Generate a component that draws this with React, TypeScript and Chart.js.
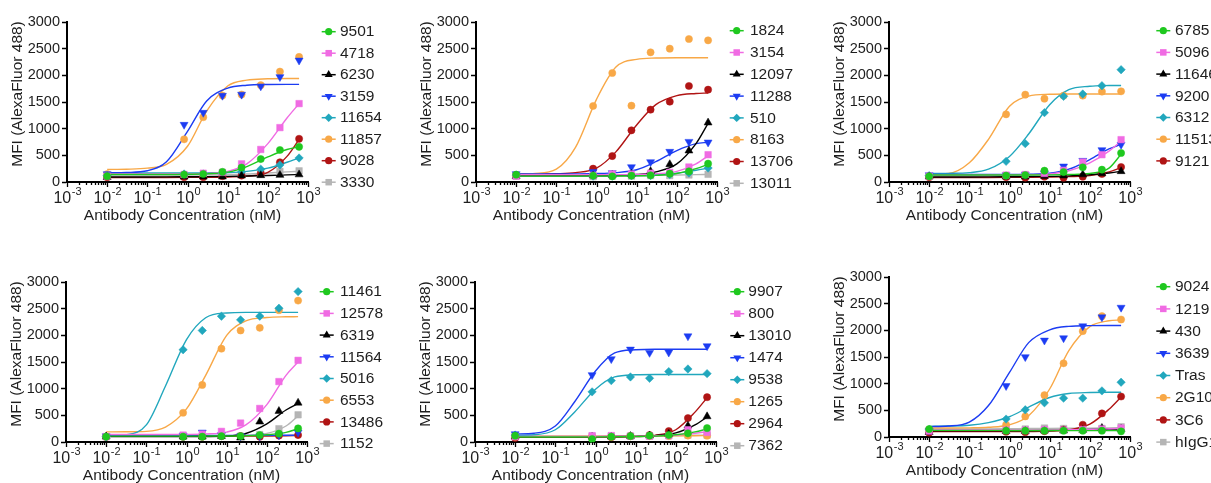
import React, { useEffect, useRef } from 'react';
import { Chart, registerables } from 'chart.js';

Chart.register(...registerables);

const FONT = "'Liberation Sans', Arial, Helvetica, sans-serif";
const NARROW = "'Liberation Sans Narrow', 'Arial Narrow', 'Liberation Sans', sans-serif";
Chart.defaults.font.family = FONT;
Chart.defaults.color = '#1e1e1e';
const TEXT_COLOR = '#1e1e1e';

// ---------- shared data ----------
const CONC = [0.01, 0.823, 2.47, 7.41, 22.2, 66.7, 200, 600];
const CURVE_X = [0.01, 0.03, 0.1, 0.3, 1, 3, 10, 30, 100, 300, 600];
const X_MAJOR = [0.001, 0.01, 0.1, 1, 10, 100, 1000];
const X_TICK_BASE = '10';
const X_TICK_EXPONENTS = ['-3', '-2', '-1', '0', '1', '2', '3'];
const Y_TITLE = 'MFI (AlexaFluor 488)';
const X_TITLE = 'Antibody Concentration (nM)';

const SERIES_COLORS = ['#1fc81f', '#f06be3', '#000000', '#1c3cf2', '#21a7bd', '#f8a847', '#b01414', '#b5b5b5'];
const SERIES_SHAPES = ['circle', 'rect', 'triangle', 'triangleDown', 'rectRot', 'circle', 'circle', 'rect'];
const SHAPE_RADIUS: Record<string, number> = { circle: 3.6, rect: 4.6, triangle: 4.6, triangleDown: 4.6, rectRot: 4.2 };

// ---------- panel 1 ----------
const P1_NAMES = ['9501', '4718', '6230', '3159', '11654', '11857', '9028', '3330'];
const P1_POINTS = [
  [110, 140, 150, 190, 270, 430, 600, 660],
  [110, 140, 165, 180, 340, 610, 1020, 1470],
  [90, 100, 100, 100, 120, 125, 130, 140],
  [150, 1075, 1300, 1620, 1640, 1795, 1970, 2280],
  [120, 150, 150, 160, 190, 240, 320, 450],
  [150, 800, 1215, 1620, 1640, 1815, 2070, 2345],
  [90, 90, 90, 110, 120, 160, 370, 810],
  [100, 110, 120, 130, 150, 170, 200, 210],
];
const P1_CURVES = [
  [140, 140, 140, 140, 145, 155, 185, 290, 470, 610, 660],
  [150, 150, 150, 150, 152, 160, 200, 340, 720, 1200, 1470],
  [95, 95, 95, 96, 98, 100, 105, 112, 122, 133, 140],
  [172, 178, 210, 380, 950, 1520, 1760, 1815, 1828, 1830, 1830],
  [170, 170, 170, 170, 170, 172, 178, 200, 260, 370, 450],
  [235, 240, 260, 330, 670, 1330, 1800, 1910, 1935, 1940, 1940],
  [85, 85, 85, 85, 86, 88, 95, 110, 180, 480, 800],
  [130, 130, 130, 130, 132, 135, 140, 150, 170, 190, 200],
];

// ---------- panel 2 ----------
const P2_NAMES = ['1824', '3154', '12097', '11288', '510', '8163', '13706', '13011'];
const P2_POINTS = [
  [137, 119, 106, 119, 125, 156, 200, 344],
  [110, 125, 150, 150, 165, 181, 281, 512],
  [110, 120, 130, 150, 200, 331, 587, 1112],
  [150, 190, 170, 281, 375, 569, 756, 744],
  [130, 110, 110, 120, 120, 140, 170, 262],
  [120, 1425, 2044, 1431, 2431, 2500, 2681, 2656],
  [130, 250, 487, 969, 1356, 1506, 1800, 1731],
  [110, 100, 110, 110, 120, 120, 131, 144],
];
const P2_CURVES = [
  [110, 110, 110, 110, 110, 112, 115, 125, 160, 250, 330],
  [135, 135, 135, 135, 136, 138, 142, 155, 200, 340, 490],
  [120, 120, 120, 120, 122, 126, 140, 190, 340, 720, 1100],
  [150, 150, 150, 152, 158, 175, 230, 380, 590, 720, 745],
  [115, 115, 115, 115, 116, 118, 122, 135, 165, 220, 260],
  [150, 160, 240, 650, 1550, 2150, 2300, 2325, 2330, 2330, 2330],
  [150, 150, 155, 175, 260, 560, 1070, 1450, 1620, 1660, 1670],
  [105, 105, 106, 108, 110, 114, 118, 124, 130, 138, 142],
];

// ---------- panel 3 ----------
const P3_NAMES = ['6785', '5096', '11646', '9200', '6312', '11513', '9121'];
const P3_POINTS = [
  [106, 120, 130, 212, 187, 275, 231, 544],
  [110, 130, 140, 160, 219, 375, 512, 794],
  [100, 100, 100, 110, 120, 140, 160, 200],
  [130, 130, 140, 160, 294, 400, 600, 700],
  [120, 387, 719, 1300, 1606, 1650, 1806, 2106],
  [110, 1269, 1638, 1563, 1619, 1619, 1694, 1700],
  [90, 90, 81, 100, 80, 100, 150, 281],
];
const P3_CURVES = [
  [130, 130, 130, 130, 130, 131, 133, 140, 160, 260, 520],
  [130, 130, 130, 130, 131, 135, 150, 210, 360, 580, 770],
  [95, 95, 95, 96, 98, 100, 105, 115, 135, 170, 200],
  [140, 140, 140, 140, 141, 145, 165, 240, 420, 620, 705],
  [160, 162, 175, 240, 480, 900, 1450, 1730, 1795, 1808, 1810],
  [150, 160, 360, 800, 1420, 1610, 1645, 1650, 1650, 1650, 1650],
  [85, 85, 85, 85, 86, 88, 92, 100, 120, 190, 270],
];

// ---------- panel 4 ----------
const P4_NAMES = ['11461', '12578', '6319', '11564', '5016', '6553', '13486', '1152'];
const P4_POINTS = [
  [100, 100, 100, 110, 110, 131, 156, 255],
  [100, 130, 150, 199, 355, 629, 1133, 1531],
  [100, 100, 100, 110, 80, 380, 579, 734],
  [110, 120, 180, 130, 110, 110, 130, 180],
  [100, 1730, 2091, 2359, 2290, 2359, 2508, 2820],
  [100, 548, 1070, 1749, 2091, 2141, 2471, 2651],
  [100, 100, 100, 110, 110, 100, 120, 130],
  [100, 110, 110, 120, 110, 140, 249, 510],
];
const P4_CURVES = [
  [110, 110, 110, 110, 110, 111, 113, 118, 135, 180, 250],
  [140, 140, 140, 140, 142, 150, 185, 320, 700, 1250, 1500],
  [100, 100, 100, 100, 100, 102, 110, 160, 340, 600, 720],
  [125, 125, 125, 125, 125, 125, 125, 125, 125, 126, 127],
  [105, 130, 320, 1050, 1920, 2330, 2420, 2430, 2430, 2430, 2430],
  [190, 192, 200, 280, 620, 1250, 2000, 2270, 2335, 2348, 2350],
  [105, 105, 105, 105, 106, 107, 108, 110, 113, 118, 122],
  [115, 115, 115, 115, 115, 116, 118, 125, 160, 300, 490],
];

// ---------- panel 5 ----------
const P5_NAMES = ['9907', '800', '13010', '1474', '9538', '1265', '2964', '7362'];
const P5_POINTS = [
  [118, 56, 100, 110, 120, 130, 162, 261],
  [100, 118, 120, 110, 110, 120, 230, 180],
  [100, 100, 100, 110, 120, 150, 305, 479],
  [149, 1257, 1556, 1736, 1674, 1680, 1985, 1799],
  [130, 940, 1151, 1220, 1195, 1320, 1369, 1282],
  [100, 100, 100, 110, 110, 110, 120, 118],
  [75, 90, 90, 110, 130, 205, 448, 840],
  [100, 110, 110, 110, 110, 120, 130, 130],
];
const P5_CURVES = [
  [95, 95, 95, 95, 96, 98, 102, 110, 135, 190, 245],
  [105, 105, 105, 105, 106, 108, 110, 115, 130, 165, 190],
  [100, 100, 100, 100, 100, 102, 106, 120, 170, 320, 470],
  [150, 165, 300, 750, 1330, 1670, 1730, 1740, 1740, 1740, 1740],
  [125, 135, 230, 560, 990, 1220, 1260, 1265, 1265, 1265, 1265],
  [108, 108, 108, 108, 109, 110, 111, 113, 115, 118, 120],
  [90, 90, 90, 90, 91, 93, 100, 125, 230, 560, 830],
  [108, 108, 108, 109, 110, 112, 115, 118, 122, 127, 130],
];

// ---------- panel 6 ----------
const P6_NAMES = ['9024', '1219', '430', '3639', 'Tras', '2G10', '3C6', 'hIgG1'];
const P6_POINTS = [
  [149, 118, 118, 118, 118, 118, 118, 106],
  [110, 130, 130, 140, 130, 140, 150, 168],
  [90, 110, 110, 120, 120, 130, 168, 150],
  [120, 958, 1500, 1811, 1855, 2079, 2247, 2427],
  [140, 336, 510, 641, 728, 728, 865, 1027],
  [140, 230, 386, 784, 1382, 1985, 2266, 2203],
  [81, 100, 90, 110, 140, 230, 442, 759],
  [100, 150, 150, 168, 160, 170, 160, 193],
];
const P6_CURVES = [
  [125, 125, 125, 124, 123, 122, 121, 120, 120, 120, 120],
  [130, 130, 130, 130, 130, 131, 133, 136, 142, 155, 165],
  [115, 115, 115, 115, 116, 118, 122, 130, 140, 148, 152],
  [195, 205, 280, 590, 1210, 1770, 2010, 2075, 2088, 2090, 2090],
  [200, 205, 220, 270, 380, 560, 740, 815, 835, 840, 840],
  [170, 170, 172, 182, 230, 400, 900, 1620, 2070, 2180, 2195],
  [100, 100, 100, 100, 101, 103, 110, 135, 240, 520, 750],
  [150, 150, 150, 152, 155, 158, 160, 163, 167, 172, 175],
];

// ---------- layout ----------
const CW = 400;
const CH = 240;
const AXIS_W = 67;
const PLOT_W = 241;
const PAD_TOP = 22;
const X_AXIS_H = 58;

type PanelCfg = {
  names: string[]; points: number[][]; curves: number[][];
  left: number; top: number;
  lg: { mx: number; tx: number; y0: number; dy: number };
};

const PANELS: PanelCfg[] = [
  { names: P1_NAMES, points: P1_POINTS, curves: P1_CURVES, left: 0, top: 0, lg: { mx: 328.7, tx: 340, y0: 31.7, dy: 21.5 } },
  { names: P2_NAMES, points: P2_POINTS, curves: P2_CURVES, left: 409, top: 0, lg: { mx: 327.7, tx: 341, y0: 30.7, dy: 21.8 } },
  { names: P3_NAMES, points: P3_POINTS, curves: P3_CURVES, left: 822, top: 0, lg: { mx: 341.3, tx: 353, y0: 30.7, dy: 21.7 } },
  { names: P4_NAMES, points: P4_POINTS, curves: P4_CURVES, left: -1, top: 260, lg: { mx: 327.7, tx: 341, y0: 31.7, dy: 21.7 } },
  { names: P5_NAMES, points: P5_POINTS, curves: P5_CURVES, left: 408, top: 260, lg: { mx: 329.3, tx: 340.3, y0: 31.7, dy: 22 } },
  { names: P6_NAMES, points: P6_POINTS, curves: P6_CURVES, left: 822, top: 255, lg: { mx: 341.3, tx: 353, y0: 31.7, dy: 22.2 } },
];

function majorIndex(v: number) {
  return X_MAJOR.findIndex((m) => Math.abs(Math.log10(m) - Math.log10(v)) < 1e-6);
}

function allXTicks() {
  const out: number[] = [];
  for (let e = -3; e < 3; e++) {
    for (let k = 1; k < 10; k++) out.push(Number((k * Math.pow(10, e)).toPrecision(6)));
  }
  out.push(1000);
  return out;
}

function drawMarker(ctx: CanvasRenderingContext2D, shape: string, x: number, y: number, r: number, color: string) {
  ctx.fillStyle = color;
  ctx.beginPath();
  if (shape === 'circle') {
    ctx.arc(x, y, r, 0, Math.PI * 2);
  } else if (shape === 'rect') {
    const s = r * Math.SQRT1_2;
    ctx.rect(x - s, y - s, 2 * s, 2 * s);
  } else if (shape === 'rectRot') {
    ctx.moveTo(x, y - r); ctx.lineTo(x + r, y); ctx.lineTo(x, y + r); ctx.lineTo(x - r, y);
  } else {
    let a = shape === 'triangleDown' ? Math.PI : 0;
    for (let k = 0; k < 3; k++) {
      const px = x + Math.sin(a) * r;
      const py = y - Math.cos(a) * r;
      if (k === 0) ctx.moveTo(px, py); else ctx.lineTo(px, py);
      a += (2 * Math.PI) / 3;
    }
  }
  ctx.closePath();
  ctx.fill();
}

function buildConfig(p: PanelCfg): any {
  const datasets: any[] = [];
  p.names.forEach((name, i) => {
    const color = SERIES_COLORS[i];
    const shape = SERIES_SHAPES[i];
    datasets.push({
      type: 'line',
      label: name + ' fit',
      data: CURVE_X.map((x, j) => ({ x, y: p.curves[i][j] })),
      borderColor: color,
      borderWidth: 1.4,
      pointRadius: 0,
      fill: false,
      cubicInterpolationMode: 'monotone',
      order: 2,
      clip: false,
    });
    datasets.push({
      type: 'scatter',
      label: name,
      data: CONC.map((x, j) => ({ x, y: p.points[i][j] })),
      pointStyle: shape === 'triangleDown' ? 'triangle' : shape,
      pointRotation: shape === 'triangleDown' ? 180 : 0,
      pointRadius: SHAPE_RADIUS[shape],
      pointBackgroundColor: color,
      pointBorderColor: color,
      pointBorderWidth: 0.5,
      showLine: false,
      order: 1,
      clip: false,
    });
  });

  const extras = {
    id: 'panelExtras',
    afterDraw(chart: any) {
      const { ctx, chartArea, scales } = chart;
      const xs = scales.x;
      ctx.save();
      // x ticks (major + minor) and their labels
      ctx.strokeStyle = '#000';
      ctx.lineWidth = 1.3;
      for (const t of xs.ticks) {
        const px = Math.round(xs.getPixelForValue(t.value)) + 0.5;
        const mi = majorIndex(t.value);
        const len = mi >= 0 ? 5 : 3;
        ctx.beginPath();
        ctx.moveTo(px, chartArea.bottom);
        ctx.lineTo(px, chartArea.bottom + len);
        ctx.stroke();
        if (mi >= 0) {
          const exp = X_TICK_EXPONENTS[mi];
          ctx.fillStyle = TEXT_COLOR;
          ctx.textBaseline = 'alphabetic';
          ctx.textAlign = 'left';
          ctx.font = `16px ${NARROW}`;
          const w1 = ctx.measureText(X_TICK_BASE).width;
          ctx.font = `11px ${NARROW}`;
          const w2 = ctx.measureText(exp).width;
          const x0 = px - (w1 + w2 + 0.5) / 2;
          ctx.font = `16px ${NARROW}`;
          ctx.fillText(X_TICK_BASE, x0, chartArea.bottom + 20.7);
          ctx.font = `11px ${NARROW}`;
          ctx.fillText(exp, x0 + w1 + 0.5, chartArea.bottom + 13);
        }
      }
      // axis titles
      ctx.fillStyle = TEXT_COLOR;
      ctx.font = `15.5px ${FONT}`;
      ctx.textAlign = 'center';
      ctx.textBaseline = 'middle';
      ctx.fillText(X_TITLE, chartArea.left + 115.5, chartArea.bottom + 34);
      ctx.save();
      ctx.translate(chartArea.left - 49.5, (chartArea.top + chartArea.bottom) / 2 - 8);
      ctx.rotate(-Math.PI / 2);
      ctx.fillText(Y_TITLE, 0, 0);
      ctx.restore();
      // legend
      const lg = p.lg;
      p.names.forEach((name, i) => {
        const y = lg.y0 + i * lg.dy;
        const color = SERIES_COLORS[i];
        ctx.strokeStyle = color;
        ctx.lineWidth = 1.5;
        ctx.beginPath();
        ctx.moveTo(lg.mx - 7, y);
        ctx.lineTo(lg.mx + 7, y);
        ctx.stroke();
        drawMarker(ctx, SERIES_SHAPES[i], lg.mx, y, SHAPE_RADIUS[SERIES_SHAPES[i]], color);
        ctx.fillStyle = TEXT_COLOR;
        ctx.font = `15.5px ${NARROW}`;
        ctx.textBaseline = 'middle';
        ctx.textAlign = 'left';
        ctx.fillText(name, lg.tx, y + 0.5);
      });
      ctx.restore();
    },
  };

  const ticksList = allXTicks();

  return {
    type: 'scatter',
    data: { datasets },
    plugins: [extras],
    options: {
      animation: false,
      responsive: false,
      events: [],
      layout: { padding: { left: 0, top: PAD_TOP, right: CW - AXIS_W - PLOT_W, bottom: 0 } },
      plugins: { legend: { display: false }, tooltip: { enabled: false }, title: { display: false } },
      scales: {
        x: {
          type: 'logarithmic',
          min: 0.001,
          max: 1000,
          afterBuildTicks: (s: any) => {
            s.ticks = ticksList.map((v) => ({ value: v, major: majorIndex(v) >= 0 }));
          },
          afterFit: (s: any) => { s.height = X_AXIS_H; },
          ticks: { display: false, autoSkip: false },
          grid: { display: false },
          border: { display: true, color: '#000', width: 2 },
          title: { display: false },
        },
        y: {
          type: 'linear',
          min: 0,
          max: 3000,
          afterFit: (s: any) => { s.width = AXIS_W; },
          ticks: {
            stepSize: 500,
            padding: 2,
            color: TEXT_COLOR,
            font: { family: FONT, size: 14.5 },
            callback: (v: number) => String(v),
          },
          grid: { display: true, drawOnChartArea: false, drawTicks: true, tickLength: 5, tickColor: '#000', tickWidth: 1.5 },
          border: { display: true, color: '#000', width: 2 },
          title: { display: false },
        },
      },
    },
  };
}

function Panel({ cfg }: { cfg: PanelCfg }) {
  const ref = useRef<HTMLCanvasElement>(null);
  useEffect(() => {
    const chart = new Chart(ref.current as HTMLCanvasElement, buildConfig(cfg));
    return () => chart.destroy();
  }, [cfg]);
  return (
    <div style={{ position: 'absolute', left: cfg.left, top: cfg.top, width: CW, height: CH }}>
      <canvas ref={ref} width={CW} height={CH} style={{ display: 'block' }} />
    </div>
  );
}

export default function App() {
  return (
    <div style={{ position: 'absolute', left: 0, top: 0, width: 1211, height: 483, overflow: 'hidden', background: '#fff' }}>
      {PANELS.map((p, i) => (
        <Panel key={i} cfg={p} />
      ))}
    </div>
  );
}
